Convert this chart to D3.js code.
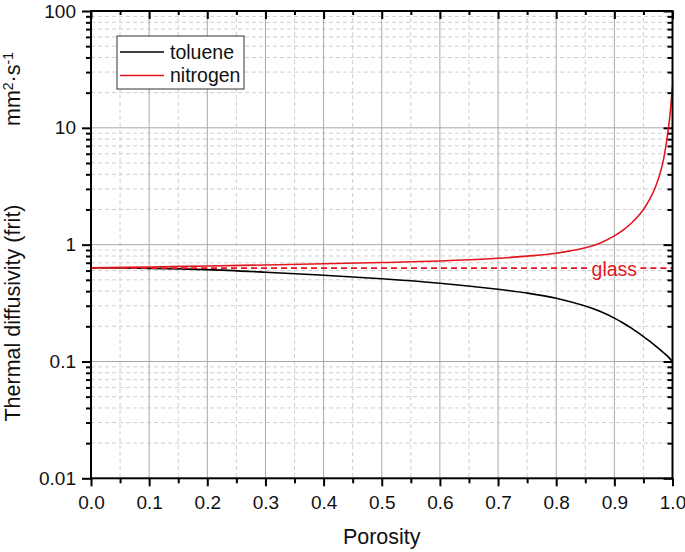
<!DOCTYPE html>
<html>
<head>
<meta charset="utf-8">
<script src="https://cdn.jsdelivr.net/npm/d3@7"></script>
<style>
  body { margin: 0; background: #fff; }
  text { font-family: "Liberation Sans", Arial, sans-serif; }
</style>
</head>
<body>
<div id="chart"></div>
<script>
// porosity values
const porosity = [0, 0.1, 0.2, 0.3, 0.4, 0.5, 0.6, 0.7, 0.75, 0.8, 0.85, 0.875, 0.9, 0.915, 0.93, 0.94, 0.95, 0.96, 0.97, 0.98, 0.985, 0.99, 0.995, 1.0];
const toluene  = [0.634, 0.627, 0.611, 0.581, 0.547, 0.511, 0.468, 0.415, 0.385, 0.348, 0.298, 0.2685, 0.235, 0.2136, 0.192, 0.1775, 0.1634, 0.150, 0.1368, 0.1245, 0.1186, 0.1129, 0.1063, 0.100];
const nitrogen = [0.634, 0.644, 0.656, 0.670, 0.686, 0.703, 0.724, 0.764, 0.798, 0.845, 0.94, 1.03, 1.19, 1.33, 1.54, 1.73, 2.0, 2.4, 3.05, 4.3, 5.5, 7.75, 12.0, 22.5];
const glass = 0.63;

const xTicks = [0, 0.1, 0.2, 0.3, 0.4, 0.5, 0.6, 0.7, 0.8, 0.9, 1.0];
const xMinor = [0.05, 0.15, 0.25, 0.35, 0.45, 0.55, 0.65, 0.75, 0.85, 0.95];
const yTicks = [0.01, 0.1, 1, 10, 100];
const yTickLabels = ["0.01", "0.1", "1", "10", "100"];

const series = [
  {name: "toluene", values: toluene, color: "#000000"},
  {name: "nitrogen", values: nitrogen, color: "#e3161f"}
];

const width = 685, height = 552;
const pLeft = 91, pRight = 672.5, pTop = 11, pBottom = 478.3;

const x = d3.scaleLinear().domain([0, 1]).range([pLeft, pRight]);
const y = d3.scaleLog().domain([0.01, 100]).range([pBottom, pTop]);

// minor decades 2..9
const yMinor = [];
for (let d = 0.01; d < 100; d *= 10) {
  for (let k = 2; k <= 9; k++) yMinor.push(+(d * k).toPrecision(3));
}

const svg = d3.select('#chart').append('svg')
  .attr('width', width).attr('height', height);

// grid
const grid = svg.append('g');
grid.selectAll('.vminor').data(xMinor).enter().append('line')
  .attr('x1', d => x(d)).attr('x2', d => x(d)).attr('y1', pTop).attr('y2', pBottom)
  .attr('stroke', '#cfcfcf').attr('stroke-width', 1).attr('stroke-dasharray', '4,3');
grid.selectAll('.hminor').data(yMinor).enter().append('line')
  .attr('x1', pLeft).attr('x2', pRight).attr('y1', d => y(d)).attr('y2', d => y(d))
  .attr('stroke', '#cfcfcf').attr('stroke-width', 1).attr('stroke-dasharray', '4,3');
grid.selectAll('.vmajor').data(xTicks.slice(1, -1)).enter().append('line')
  .attr('x1', d => x(d)).attr('x2', d => x(d)).attr('y1', pTop).attr('y2', pBottom)
  .attr('stroke', '#a8a8a8').attr('stroke-width', 1);
grid.selectAll('.hmajor').data(yTicks.slice(1, -1)).enter().append('line')
  .attr('x1', pLeft).attr('x2', pRight).attr('y1', d => y(d)).attr('y2', d => y(d))
  .attr('stroke', '#a8a8a8').attr('stroke-width', 1);

// axes
const axB = svg.append('g').attr('transform', `translate(0,${pBottom})`)
  .call(d3.axisBottom(x).tickValues(xTicks).tickFormat(d3.format('.1f')).tickSize(8).tickPadding(9));
const axBm = svg.append('g').attr('transform', `translate(0,${pBottom})`)
  .call(d3.axisBottom(x).tickValues(xMinor).tickFormat('').tickSize(5));
const axT = svg.append('g').attr('transform', `translate(0,${pTop})`)
  .call(d3.axisBottom(x).tickValues(xTicks).tickFormat('').tickSize(8));
const axTm = svg.append('g').attr('transform', `translate(0,${pTop})`)
  .call(d3.axisBottom(x).tickValues(xMinor).tickFormat('').tickSize(4));
const axL = svg.append('g').attr('transform', `translate(${pLeft},0)`)
  .call(d3.axisLeft(y).tickValues(yTicks).tickFormat((d, i) => yTickLabels[i]).tickSize(9).tickPadding(6));
const axLm = svg.append('g').attr('transform', `translate(${pLeft},0)`)
  .call(d3.axisLeft(y).tickValues(yMinor).tickFormat('').tickSize(5));
const axR = svg.append('g').attr('transform', `translate(${pRight},0)`)
  .call(d3.axisLeft(y).tickValues(yTicks).tickFormat('').tickSize(9));
const axRm = svg.append('g').attr('transform', `translate(${pRight},0)`)
  .call(d3.axisLeft(y).tickValues(yMinor).tickFormat('').tickSize(5));

[axB, axBm, axT, axTm, axL, axLm, axR, axRm].forEach(a => {
  a.select('.domain').remove();
  a.selectAll('line').attr('stroke', '#000').attr('stroke-width', 2);
  a.selectAll('text').attr('fill', '#111').style('font-size', '19px');
});

// data lines
const line = d3.line()
  .x((d, i) => x(porosity[i]))
  .y(d => y(d))
  .curve(d3.curveCatmullRom.alpha(0.5));

svg.append('g').selectAll('path').data(series).enter().append('path')
  .attr('d', d => line(d.values))
  .attr('fill', 'none')
  .attr('stroke', d => d.color)
  .attr('stroke-width', 1.6);

// glass label and dashed reference line
const gText = svg.append('text')
  .attr('x', x(0.9)).attr('y', y(glass) + 8)
  .attr('text-anchor', 'middle')
  .attr('fill', '#e3161f')
  .style('font-size', '19.5px')
  .text('glass');
const bb = gText.node().getBBox();
[[x(0), bb.x - 3], [bb.x + bb.width + 3, x(1)]].forEach(seg => {
  svg.append('line')
    .attr('x1', seg[0]).attr('x2', seg[1])
    .attr('y1', y(glass)).attr('y2', y(glass))
    .attr('stroke', '#e3161f').attr('stroke-width', 1.8)
    .attr('stroke-dasharray', '6,4');
});

// frame
svg.append('rect')
  .attr('x', pLeft).attr('y', pTop)
  .attr('width', pRight - pLeft).attr('height', pBottom - pTop)
  .attr('fill', 'none').attr('stroke', '#000').attr('stroke-width', 2);

// legend
const lg = svg.append('g');
lg.append('rect').attr('x', 117).attr('y', 36).attr('width', 127).attr('height', 53)
  .attr('fill', '#fff').attr('stroke', '#333').attr('stroke-width', 1);
series.forEach((s, i) => {
  const ly = 52 + i * 23.5;
  lg.append('line').attr('x1', 120).attr('x2', 164).attr('y1', ly).attr('y2', ly)
    .attr('stroke', s.color).attr('stroke-width', 1.4);
  lg.append('text').attr('x', 170).attr('y', ly + 6.5)
    .style('font-size', '19.5px').attr('fill', '#111').text(s.name);
});

// axis titles
svg.append('text')
  .attr('x', (pLeft + pRight) / 2).attr('y', 544)
  .attr('text-anchor', 'middle')
  .style('font-size', '21.5px').attr('fill', '#111')
  .text('Porosity');

svg.append('text')
  .attr('transform', 'translate(20,313) rotate(-90)')
  .attr('text-anchor', 'middle')
  .style('font-size', '21.5px').attr('fill', '#111')
  .text('Thermal diffusivity (frit)');

const unit = svg.append('text')
  .attr('transform', 'translate(20,89) rotate(-90)')
  .attr('text-anchor', 'middle')
  .style('font-size', '21.5px').attr('fill', '#111');
unit.append('tspan').text('mm');
unit.append('tspan').attr('dy', -7).style('font-size', '14px').text('2');
unit.append('tspan').attr('dy', 7).text('·s');
unit.append('tspan').attr('dy', -7).style('font-size', '14px').text('-1');
</script>
</body>
</html>
